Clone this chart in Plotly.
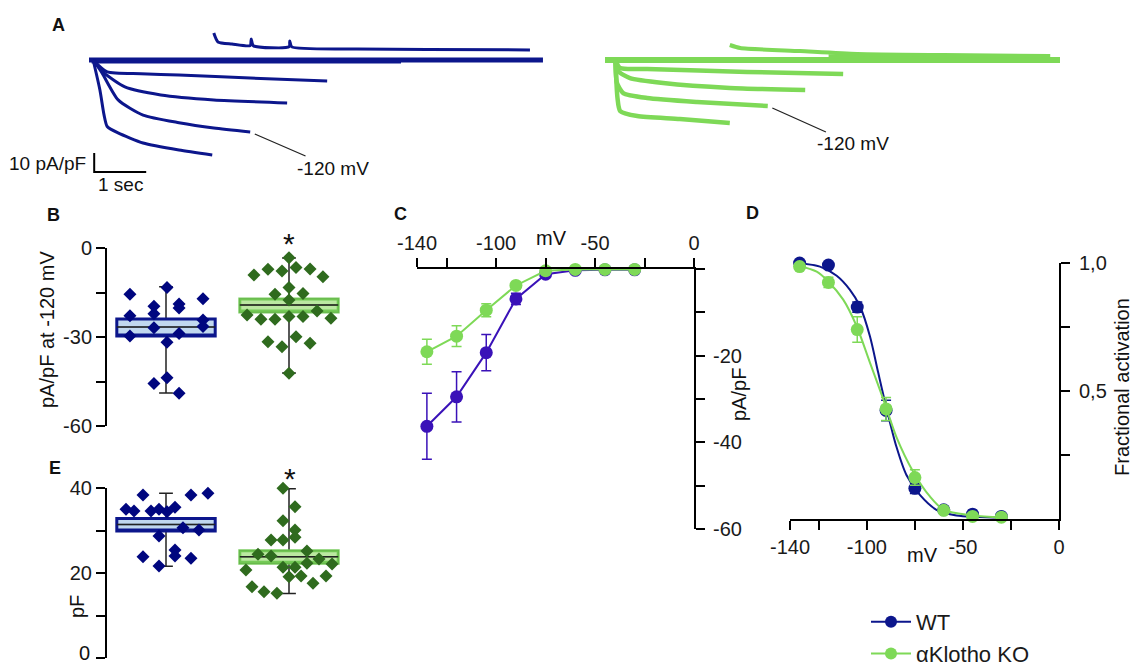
import plotly.graph_objects as go

W, H = 1133, 666
FONT = "Liberation Sans, Arial, sans-serif"

# ---------------- Panel A: current traces (time in s, current in pA/pF) -------------
wt_base_t = [0.0, 8.73]
wt_base_i = [0.0, 0.0]
wt_base2_t = [0.05, 6.0]
wt_base2_i = [-1.0, -1.0]
wt_pos_t = [2.40, 2.48, 2.75, 3.10, 3.12, 3.16, 3.85, 3.86, 3.90, 5.15, 6.5, 8.48]
wt_pos_i = [14.2, 9.5, 8.4, 7.6, 11.0, 7.5, 7.0, 10.0, 6.9, 5.8, 5.5, 5.3]
wt_s1_t = [0.08, 0.35, 1.0, 1.73, 3.10, 4.58]
wt_s1_i = [0.0, -6.3, -7.2, -7.9, -9.5, -11.0]
wt_s2_t = [0.08, 0.29, 0.69, 1.38, 2.40, 3.81]
wt_s2_i = [0.0, -6.8, -14.2, -18.4, -21.0, -22.6]
wt_s3_t = [0.08, 0.25, 0.56, 1.04, 1.73, 2.40, 3.10]
wt_s3_i = [0.0, -6.8, -21.0, -29.0, -33.0, -35.8, -37.9]
wt_s4_t = [0.08, 0.21, 0.29, 0.35, 0.56, 1.04, 1.73, 2.37]
wt_s4_i = [0.0, -15.8, -29.0, -35.0, -38.4, -43.7, -47.4, -50.0]

ko_base_t = [0.0, 8.75]
ko_base_i = [0.0, 0.0]
ko_base2_t = [4.3, 8.56]
ko_base2_i = [2.0, 2.0]
ko_pos_t = [2.40, 2.60, 3.75, 4.85, 6.5, 8.56]
ko_pos_i = [7.9, 6.3, 4.7, 3.2, 2.6, 2.1]
ko_s1_t = [0.20, 0.29, 0.81, 2.73, 4.58]
ko_s1_i = [0.0, -4.2, -4.7, -6.3, -7.4]
ko_s2_t = [0.20, 0.25, 0.48, 1.12, 2.40, 3.85]
ko_s2_i = [0.0, -5.8, -9.5, -12.1, -14.7, -15.8]
ko_s3_t = [0.20, 0.23, 0.35, 0.81, 1.77, 3.13]
ko_s3_i = [0.0, -12.1, -17.4, -20.0, -22.1, -24.2]
ko_s4_t = [0.20, 0.24, 0.29, 0.62, 1.44, 2.40]
ko_s4_i = [0.0, -20.0, -26.8, -29.5, -31.0, -33.2]

scale_bar_sec = 1.0
scale_bar_pApF = 10.0

# ---------------- Panel B: current density at -120 mV ----------------
groups_x = [1, 2]
wt_b_x = [0.707, 0.707, 0.707, 0.902, 0.902, 0.902, 0.902, 1.008, 1.008, 1.008,
          1.106, 1.106, 1.106, 1.106, 1.301, 1.301, 1.301]
wt_b_y = [-15.6, -22.8, -29.7, -19.6, -22.2, -26.9, -45.7, -13.3, -31.8, -43.7,
          -18.9, -20.2, -28.8, -49.0, -17.1, -24.3, -26.5]
ko_b_x = [1.659, 1.715, 1.772, 1.829, 1.886, 1.886, 1.829, 1.943, 1.943, 2.0, 2.0,
          2.0, 2.0, 2.0, 2.057, 2.057, 2.114, 2.114, 2.171, 2.171, 2.228, 2.276, 2.341]
ko_b_y = [-22.6, -9.1, -24.0, -7.2, -15.6, -24.0, -31.6, -7.75, -33.3, -3.26, -13.3,
          -17.5, -23.1, -42.2, -6.6, -29.9, -15.3, -23.1, -7.1, -32.1, -21.2, -9.7, -23.7]
# box stats: [lower whisker, q1, median, q3, upper whisker]
wt_b_stats = [-48.9, -29.7, -26.6, -23.9, -13.1]
ko_b_stats = [-42.1, -21.6, -19.2, -17.2, -3.4]

# ---------------- Panel E: capacitance ----------------
wt_e_x = [0.675, 0.740, 0.813, 0.813, 0.878, 0.943, 0.943, 0.943, 1.008, 1.073,
          1.073, 1.073, 1.138, 1.203, 1.203, 1.268, 1.341]
wt_e_y = [34.98, 34.59, 38.35, 23.84, 34.59, 34.98, 28.71, 21.65, 34.43, 35.45,
          25.41, 24.0, 30.67, 38.35, 23.45, 30.12, 38.75]
ko_e_x = [1.650, 1.699, 1.748, 1.797, 1.854, 1.854, 1.902, 1.951, 1.951, 1.951, 1.951,
          2.0, 2.049, 2.049, 2.049, 2.049, 2.098, 2.146, 2.146, 2.195, 2.244, 2.301, 2.350]
ko_e_y = [20.71, 16.78, 24.39, 15.61, 24.0, 27.76, 15.22, 27.76, 21.33, 32.31, 39.92,
          19.14, 21.33, 28.39, 30.12, 35.61, 19.29, 22.27, 25.18, 17.57, 23.29, 19.29, 22.12]
wt_e_stats = [21.6, 29.9, 31.4, 32.8, 38.75]
ko_e_stats = [15.2, 22.3, 23.8, 25.25, 39.8]

# ---------------- Panel C: I-V ----------------
volt = [-135, -120, -105, -90, -75, -60, -45, -30]
wt_iv = [-36.3, -29.5, -19.3, -6.9, -1.2, -0.3, -0.2, -0.2]
wt_iv_err = [7.6, 5.8, 4.2, 1.3, 0.5, 0.2, 0.1, 0.1]
ko_iv = [-19.1, -15.5, -9.5, -3.8, -0.4, -0.1, -0.1, -0.1]
ko_iv_err = [2.9, 2.4, 1.5, 0.8, 0.3, 0.1, 0.1, 0.1]

# ---------------- Panel D: activation ----------------
wt_act = [1.0, 0.992, 0.828, 0.424, 0.12, 0.036, 0.019, 0.010]
wt_act_err = [0.005, 0.005, 0.02, 0.04, 0.02, 0.01, 0.005, 0.005]
ko_act = [0.986, 0.924, 0.740, 0.430, 0.162, 0.034, 0.010, 0.007]
ko_act_err = [0.01, 0.02, 0.05, 0.045, 0.03, 0.01, 0.005, 0.005]
wt_fit_v = [-135.1, -124.4, -115.7, -108.8, -103.6, -98.4, -94.1, -89.7, -84.6, -79.4, -72.4, -63.8, -53.4, -29.6]
wt_fit_a = [0.999, 0.986, 0.950, 0.895, 0.831, 0.714, 0.572, 0.430, 0.282, 0.172, 0.094, 0.036, 0.014, 0.006]
ko_fit_v = [-135.1, -126.1, -120.1, -112.3, -105.3, -98.4, -91.5, -84.6, -75.9, -67.2, -60.0, -44.7, -29.6]
ko_fit_a = [0.988, 0.966, 0.928, 0.857, 0.753, 0.611, 0.469, 0.320, 0.185, 0.088, 0.036, 0.014, 0.006]

# ---------------- colours ----------------
NAVY = "#0c168c"
IV_WT = "#3a12b8"
GREEN = "#7ed957"
DKGREEN = "#2f6b1e"
PTNAVY = "#00067f"


def px(p):
    return p / W


def py(p):
    return 1 - p / H


fig = go.Figure()

# ---------- Panel A traces ----------
a_wt = [(wt_base_t, wt_base_i, 5), (wt_base2_t, wt_base2_i, 3), (wt_pos_t, wt_pos_i, 3),
        (wt_s1_t, wt_s1_i, 3), (wt_s2_t, wt_s2_i, 3), (wt_s3_t, wt_s3_i, 3), (wt_s4_t, wt_s4_i, 3)]
for t, i, w in a_wt:
    fig.add_trace(go.Scatter(x=t, y=i, xaxis="x", yaxis="y", mode="lines",
                             line=dict(color=NAVY, width=w, shape="spline", smoothing=0.6),
                             showlegend=False, hoverinfo="skip"))
a_ko = [(ko_base_t, ko_base_i, 6), (ko_base2_t, ko_base2_i, 4), (ko_pos_t, ko_pos_i, 4),
        (ko_s1_t, ko_s1_i, 4.5), (ko_s2_t, ko_s2_i, 4.5), (ko_s3_t, ko_s3_i, 4.5), (ko_s4_t, ko_s4_i, 4.5)]
for t, i, w in a_ko:
    fig.add_trace(go.Scatter(x=t, y=i, xaxis="x2", yaxis="y", mode="lines",
                             line=dict(color=GREEN, width=w, shape="spline", smoothing=0.6),
                             showlegend=False, hoverinfo="skip"))

# scale bar
sb_t0, sb_i0 = 0.1, -59.0
fig.add_trace(go.Scatter(x=[sb_t0, sb_t0, sb_t0 + scale_bar_sec],
                         y=[sb_i0 + scale_bar_pApF, sb_i0, sb_i0],
                         xaxis="x", yaxis="y", mode="lines",
                         line=dict(color="black", width=2), showlegend=False, hoverinfo="skip"))


# ---------- box panels ----------
def add_box(stats, xc, line_col, fill_col, xa, ya):
    lo, q1, med, q3, hi = stats
    fig.add_trace(go.Box(x=[xc], q1=[q1], median=[med], q3=[q3], lowerfence=[lo], upperfence=[hi],
                         width=0.8, whiskerwidth=0.14, line=dict(color="#222", width=1.5),
                         fillcolor="rgba(0,0,0,0)", xaxis=xa, yaxis=ya, showlegend=False,
                         hoverinfo="skip", boxpoints=False))
    fig.add_trace(go.Box(x=[xc], q1=[q1], median=[q1], q3=[q3], lowerfence=[q1], upperfence=[q3],
                         width=0.8, whiskerwidth=0, line=dict(color=line_col, width=3),
                         fillcolor=fill_col, xaxis=xa, yaxis=ya, showlegend=False,
                         hoverinfo="skip", boxpoints=False))
    fig.add_trace(go.Box(x=[xc], q1=[med], median=[med], q3=[med], lowerfence=[med], upperfence=[med],
                         width=0.8, whiskerwidth=0, line=dict(color="#222", width=1.5),
                         fillcolor="rgba(0,0,0,0)", xaxis=xa, yaxis=ya, showlegend=False,
                         hoverinfo="skip", boxpoints=False))


WT_FILL = "rgba(160,195,230,0.65)"
KO_FILL = "rgba(150,220,110,0.65)"
KO_LINE = "rgba(110,200,80,0.9)"

add_box(wt_b_stats, groups_x[0], NAVY, WT_FILL, "x3", "y3")
add_box(ko_b_stats, groups_x[1], KO_LINE, KO_FILL, "x3", "y3")
add_box(wt_e_stats, groups_x[0], NAVY, WT_FILL, "x4", "y4")
add_box(ko_e_stats, groups_x[1], KO_LINE, KO_FILL, "x4", "y4")

for xs, ys, col, xa, ya in [(wt_b_x, wt_b_y, PTNAVY, "x3", "y3"), (ko_b_x, ko_b_y, DKGREEN, "x3", "y3"),
                            (wt_e_x, wt_e_y, PTNAVY, "x4", "y4"), (ko_e_x, ko_e_y, DKGREEN, "x4", "y4")]:
    fig.add_trace(go.Scatter(x=xs, y=ys, mode="markers", xaxis=xa, yaxis=ya, cliponaxis=False,
                             marker=dict(symbol="diamond", size=10, color=col),
                             showlegend=False, hoverinfo="skip"))

# ---------- Panel C ----------
fig.add_trace(go.Scatter(x=volt, y=wt_iv, mode="lines+markers", xaxis="x5", yaxis="y5",
                         cliponaxis=False, line=dict(color=IV_WT, width=2),
                         marker=dict(size=13, color=IV_WT),
                         error_y=dict(type="data", array=wt_iv_err, color=IV_WT, thickness=1.5, width=5),
                         showlegend=False))
fig.add_trace(go.Scatter(x=volt, y=ko_iv, mode="lines+markers", xaxis="x5", yaxis="y5",
                         cliponaxis=False, line=dict(color=GREEN, width=2),
                         marker=dict(size=13, color=GREEN),
                         error_y=dict(type="data", array=ko_iv_err, color=GREEN, thickness=1.5, width=5),
                         showlegend=False))

# ---------- Panel D ----------
fig.add_trace(go.Scatter(x=volt, y=wt_act, mode="markers", xaxis="x6", yaxis="y6", cliponaxis=False,
                         marker=dict(size=13, color=NAVY),
                         error_y=dict(type="data", array=wt_act_err, color=NAVY, thickness=1.5, width=5),
                         showlegend=False))
fig.add_trace(go.Scatter(x=wt_fit_v, y=wt_fit_a, mode="lines", xaxis="x6", yaxis="y6", cliponaxis=False,
                         line=dict(color=NAVY, width=2, shape="spline", smoothing=0.8), showlegend=False))
fig.add_trace(go.Scatter(x=volt, y=ko_act, mode="markers", xaxis="x6", yaxis="y6", cliponaxis=False,
                         marker=dict(size=13, color=GREEN),
                         error_y=dict(type="data", array=ko_act_err, color=GREEN, thickness=1.5, width=5),
                         showlegend=False))
fig.add_trace(go.Scatter(x=ko_fit_v, y=ko_fit_a, mode="lines", xaxis="x6", yaxis="y6", cliponaxis=False,
                         line=dict(color=GREEN, width=2, shape="spline", smoothing=0.8), showlegend=False))

# legend entries
fig.add_trace(go.Scatter(x=[None], y=[None], mode="lines+markers", name="WT",
                         line=dict(color=NAVY, width=2), marker=dict(size=12, color=NAVY),
                         xaxis="x6", yaxis="y6"))
fig.add_trace(go.Scatter(x=[None], y=[None], mode="lines+markers", name="αKlotho KO",
                         line=dict(color=GREEN, width=2), marker=dict(size=12, color=GREEN),
                         xaxis="x6", yaxis="y6"))

# ---------- layout / axes ----------
hidden = dict(visible=False, showgrid=False, zeroline=False, fixedrange=True)
tickfont = dict(family=FONT, size=20, color="#1a1a1a")
axcommon = dict(showgrid=False, zeroline=False, showline=True, linecolor="black", linewidth=2,
                ticks="outside", tickcolor="black", tickwidth=2, ticklen=9, tickfont=tickfont,
                automargin=False, ticklabeloverflow="allow")

layout = dict(
    width=W, height=H, margin=dict(l=0, r=0, t=0, b=0, pad=0, autoexpand=False),
    paper_bgcolor="white", plot_bgcolor="rgba(0,0,0,0)",
    font=dict(family=FONT, size=20, color="#1a1a1a"),
    boxmode="overlay",
    # panel A
    xaxis=dict(domain=[0, px(566)], range=[-89 / 52, (566 - 89) / 52], **hidden),
    xaxis2=dict(domain=[px(566), 1], range=[(566 - 605) / 52, (1133 - 605) / 52], anchor="y", **hidden),
    yaxis=dict(domain=[py(195), py(20)], range=[(60 - 195) / 1.9, (60 - 20) / 1.9], **hidden),
    # panel B
    xaxis3=dict(domain=[px(106), px(360)], range=[0.5122, 2.5772], anchor="y3", **hidden),
    yaxis3=dict(domain=[py(426), py(248)], range=[-60, 0], anchor="free", position=px(106),
                tickvals=[-60, -45, -30, -15, 0], ticktext=["-60", "", "-30", "", "0"], **axcommon),
    # panel E (the bottom "0" label is an annotation so it stays inside the page)
    xaxis4=dict(domain=[px(106), px(360)], range=[0.5122, 2.5772], anchor="y4", **hidden),
    yaxis4=dict(domain=[py(658), py(488)], range=[0, 40], anchor="free", position=px(106),
                tickvals=[0, 10, 20, 30, 40], ticktext=["", "", "20", "", "40"], **axcommon),
    # panel C
    xaxis5=dict(domain=[px(417), px(694)], range=[-140, 0], anchor="y5", side="top",
                tickvals=[-140, -125, -100, -75, -50, -25, 0],
                ticktext=["-140", "", "-100", "", "-50", "", "0"], **axcommon),
    yaxis5=dict(domain=[py(529), py(269)], range=[-60, 0], anchor="x5", side="right",
                tickvals=[-60, -50, -40, -30, -20, -10, 0],
                ticktext=["-60", "", "-40", "", "-20", "", ""], ticklabelstandoff=4, **axcommon),
    # panel D
    xaxis6=dict(domain=[px(790), px(1059)], range=[-140, 0], anchor="y6",
                tickvals=[-140, -125, -100, -75, -50, -25, 0],
                ticktext=["-140", "", "-100", "", "-50", "", "0"], **axcommon),
    yaxis6=dict(domain=[py(519), py(263)], range=[0, 1], anchor="x6", side="right",
                tickvals=[0.25, 0.5, 0.75, 1.0], ticktext=["", "0,5", "", "1,0"],
                ticklabelstandoff=5, **axcommon),
    legend=dict(x=px(866), y=py(601), xanchor="left", yanchor="top",
                font=dict(family=FONT, size=22, color="#1a1a1a"),
                bgcolor="rgba(0,0,0,0)", tracegroupgap=0, itemwidth=40),
    showlegend=True,
)
fig.update_layout(**layout)

ann = []


def label(text, x, y, size=20, bold=False, angle=0, xanchor="center", yanchor="middle"):
    ann.append(dict(text=("<b>%s</b>" % text) if bold else text, x=px(x), y=py(y), xref="paper",
                    yref="paper", showarrow=False, textangle=angle, xanchor=xanchor, yanchor=yanchor,
                    font=dict(family=FONT, size=size, color="#111")))


label("A", 58, 25, 18, True)
label("B", 53, 215, 18, True)
label("C", 400, 214, 18, True)
label("D", 752, 213, 18, True)
label("E", 55, 468, 18, True)
label("*", 289, 243, 30)
label("*", 290, 478, 30)
label("pA/pF at -120 mV", 47, 330, 20, angle=-90)
label("pF", 77, 607, 20, angle=-90)
label("0", 92, 666, 20, xanchor="right", yanchor="bottom")
label("mV", 551, 238, 20)
label("pA/pF", 739, 395, 20, angle=-90)
label("mV", 922, 555, 20)
label("Fractional activation", 1122, 387, 20, angle=-90)
label("10 pA/pF", 88, 163, 19, xanchor="right")
label("1 sec", 120, 184, 19)

# -120 mV pointers
ann.append(dict(text="-120 mV", x=wt_s3_t[-1], y=wt_s3_i[-1], xref="x", yref="y", ax=83, ay=36,
                showarrow=True, arrowhead=0, arrowwidth=1.3, arrowcolor="#222", standoff=5,
                font=dict(family=FONT, size=19, color="#111")))
ann.append(dict(text="-120 mV", x=ko_s3_t[-1], y=ko_s3_i[-1], xref="x2", yref="y", ax=85, ay=38,
                showarrow=True, arrowhead=0, arrowwidth=1.3, arrowcolor="#222", standoff=5,
                font=dict(family=FONT, size=19, color="#111")))
fig.update_layout(annotations=ann)

fig.write_html("out.html")
